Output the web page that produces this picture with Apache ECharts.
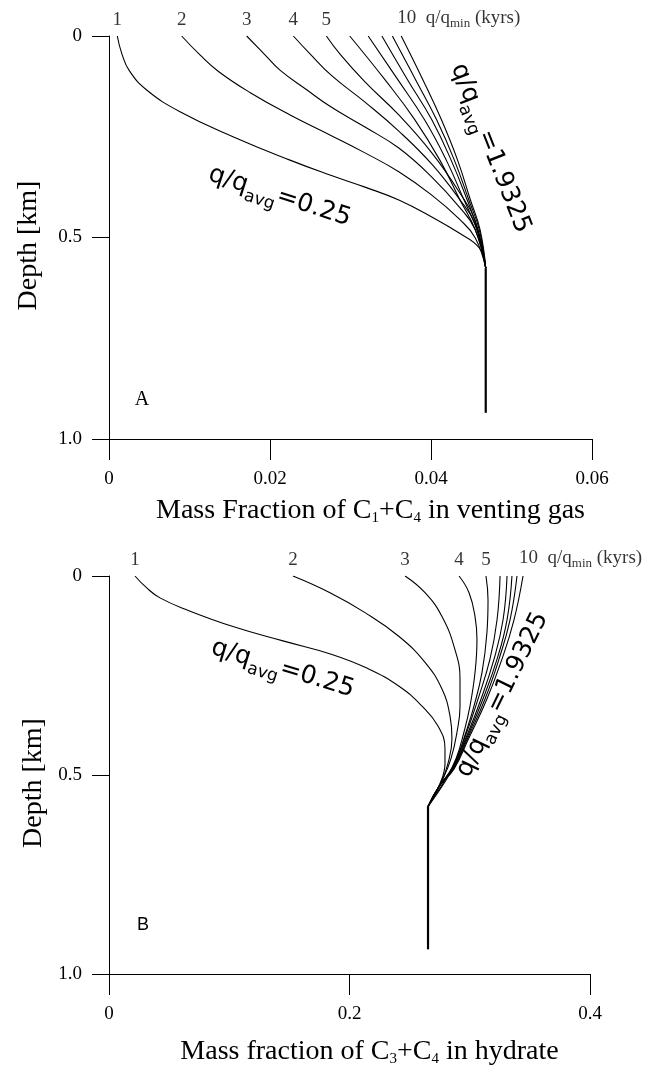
<!DOCTYPE html>
<html>
<head>
<meta charset="utf-8">
<script src="https://cdn.jsdelivr.net/npm/echarts@6/dist/echarts.min.js"></script>
<style>
  html, body { margin: 0; padding: 0; background: #fff; }
  #chart { width: 664px; height: 1068px; }
</style>
</head>
<body>
<div id="chart"></div>
<script>
// ---- Panel A: mass fraction in venting gas, points are [fraction, depth km] ----
const gas1 = [[0.00103,0],[0.00158,0.043],[0.00252,0.086],[0.00468,0.134],[0.00882,0.188],[0.0154,0.25],[0.02248,0.308],[0.02745,0.345],[0.0318,0.375],[0.036,0.407],[0.0401,0.449],[0.0435,0.489],[0.046,0.526],[0.0468,0.576]];
const gas2 = [[0.00903,0],[0.0113,0.047],[0.0136,0.088],[0.0175,0.14],[0.0225,0.196],[0.0275,0.246],[0.0318,0.29],[0.036,0.337],[0.0401,0.395],[0.0435,0.454],[0.0455,0.501],[0.0468,0.576]];
const gas3 = [[0.0171,0],[0.0192,0.043],[0.0212,0.084],[0.0246,0.134],[0.0275,0.175],[0.0318,0.226],[0.036,0.278],[0.0401,0.35],[0.0435,0.424],[0.0455,0.481],[0.0468,0.576]];
const gas4 = [[0.0229,0],[0.025,0.045],[0.0277,0.099],[0.0318,0.164],[0.036,0.236],[0.0401,0.318],[0.0435,0.404],[0.0455,0.467],[0.0468,0.576]];
const gas5 = [[0.027,0],[0.0287,0.045],[0.0318,0.114],[0.036,0.196],[0.0401,0.29],[0.0435,0.387],[0.0455,0.459],[0.0468,0.576]];
const gas6 = [[0.0299,0],[0.0343,0.109],[0.038,0.208],[0.0411,0.308],[0.0436,0.407],[0.0455,0.481],[0.0468,0.576]];
const gas7 = [[0.0322,0],[0.0359,0.109],[0.0392,0.208],[0.0419,0.308],[0.0441,0.407],[0.0457,0.481],[0.0468,0.576]];
const gas8 = [[0.0339,0],[0.0371,0.109],[0.0401,0.208],[0.0425,0.308],[0.0445,0.407],[0.0458,0.481],[0.0468,0.576]];
const gas9 = [[0.0352,0],[0.0381,0.109],[0.0407,0.208],[0.0429,0.308],[0.0447,0.407],[0.046,0.481],[0.0468,0.576]];
const gas10 = [[0.0363,0],[0.039,0.109],[0.0413,0.208],[0.0433,0.308],[0.0449,0.407],[0.0461,0.481],[0.0468,0.576]];
const gasBelow = [[0.0468,0.576],[0.0468,0.935]];

// ---- Panel B: mass fraction in hydrate ----
const hyd1 = [[0.0216,0],[0.0314,0.03],[0.0424,0.055],[0.0646,0.085],[0.1031,0.127],[0.1447,0.163],[0.1854,0.197],[0.2149,0.232],[0.2412,0.277],[0.2603,0.327],[0.2736,0.377],[0.2794,0.434],[0.2794,0.471],[0.2753,0.521],[0.2653,0.579]];
const hyd2 = [[0.153,0],[0.1838,0.042],[0.2129,0.092],[0.2412,0.152],[0.2628,0.217],[0.2769,0.284],[0.2836,0.352],[0.2852,0.409],[0.2819,0.471],[0.2761,0.521],[0.2653,0.579]];
const hyd3 = [[0.2462,0],[0.2628,0.042],[0.2769,0.102],[0.2877,0.185],[0.2919,0.259],[0.2919,0.327],[0.2894,0.392],[0.2844,0.459],[0.2777,0.509],[0.2653,0.579]];
const hyd4 = [[0.2911,0],[0.2994,0.042],[0.3044,0.102],[0.306,0.16],[0.3044,0.242],[0.3002,0.327],[0.2952,0.392],[0.2886,0.459],[0.2802,0.509],[0.2653,0.579]];
const hyd5 = [[0.3135,0],[0.3152,0.06],[0.3143,0.142],[0.3102,0.242],[0.3035,0.327],[0.2969,0.392],[0.2894,0.459],[0.2811,0.509],[0.2653,0.579]];
const hyd6 = [[0.3252,0],[0.3227,0.11],[0.3168,0.209],[0.3069,0.309],[0.2955,0.409],[0.285,0.484],[0.2744,0.529],[0.2653,0.579]];
const hyd7 = [[0.331,0],[0.3277,0.11],[0.3202,0.209],[0.3094,0.309],[0.2965,0.409],[0.2856,0.484],[0.2744,0.529],[0.2653,0.579]];
const hyd8 = [[0.3351,0],[0.331,0.11],[0.3227,0.209],[0.311,0.309],[0.2973,0.409],[0.2861,0.484],[0.2744,0.529],[0.2653,0.579]];
const hyd9 = [[0.3393,0],[0.3335,0.11],[0.3243,0.209],[0.3127,0.309],[0.2981,0.409],[0.2866,0.484],[0.2744,0.529],[0.2653,0.579]];
const hyd10 = [[0.3443,0],[0.3368,0.11],[0.3268,0.209],[0.3143,0.309],[0.299,0.409],[0.2871,0.484],[0.2744,0.529],[0.2653,0.579]];
const hydBelow = [[0.2653,0.579],[0.2653,0.938]];

// q/q_min run labels written above the surface end of each profile
const runLabels = ['1', '2', '3', '4', '5', '', '', '', '', '10'];
const gasProfiles = [gas1, gas2, gas3, gas4, gas5, gas6, gas7, gas8, gas9, gas10];
const hydProfiles = [hyd1, hyd2, hyd3, hyd4, hyd5, hyd6, hyd7, hyd8, hyd9, hyd10];

// curve annotations, anchored in data coordinates [fraction, depth]
const notes = [
  { grid: 0, at: [0.0211, 0.404], rot: -18, value: '0.25' },
  { grid: 0, at: [0.0471, 0.281], rot: -68.5, value: '1.9325' },
  { grid: 1, at: [0.1439, 0.239], rot: -17, value: '0.25' },
  { grid: 1, at: [0.329, 0.301], rot: 64, value: '1.9325' }
];
const panelTags = [
  { grid: 0, at: [0.0041, 0.903], text: 'A', family: 'Liberation Serif', size: 20 },
  { grid: 1, at: [0.0283, 0.878], text: 'B', family: 'Liberation Sans', size: 18 }
];

const SERIF = 'Liberation Serif';
const SANS = 'DejaVu Sans';
const INK = '#000';

function curve(data, gi, width) {
  return {
    type: 'line', xAxisIndex: gi, yAxisIndex: gi, data: data,
    symbol: 'none', showSymbol: false, smooth: 0.45, silent: true,
    lineStyle: { color: INK, width: width }
  };
}

function runLabelSeries(profiles, gi) {
  return {
    type: 'scatter', xAxisIndex: gi, yAxisIndex: gi, silent: true,
    symbolSize: 1, itemStyle: { color: 'rgba(0,0,0,0)' },
    data: profiles.map(function (p, i) {
      const item = { value: p[0] };
      if (!runLabels[i]) {
        item.label = { show: false };
      } else if (i === profiles.length - 1) {
        item.label = {
          show: true, position: 'top', distance: 6, align: 'left', offset: [-4, 0],
          formatter: '{n|' + runLabels[i] + '  q/q}{s|min}{n| (kyrs)}',
          rich: {
            n: { fontFamily: SERIF, fontSize: 19, color: INK, lineHeight: 21, verticalAlign: 'top' },
            s: { fontFamily: SERIF, fontSize: 13, color: INK, lineHeight: 13, padding: [9, 0, 0, 0], verticalAlign: 'top' }
          }
        };
      } else {
        item.label = { show: true, position: 'top', distance: 6, formatter: runLabels[i],
          fontFamily: SERIF, fontSize: 19, color: INK };
      }
      return item;
    })
  };
}

const axisText = { fontFamily: SERIF, fontSize: 19, color: INK };
const subRich = { sub: { fontFamily: SERIF, fontSize: 15, color: INK, lineHeight: 15, padding: [14, 0, 0, 0], verticalAlign: 'top' } };

function xAxisDef(gi, max, interval, digits, name, gap) {
  return {
    gridIndex: gi, type: 'value', min: 0, max: max, interval: interval, position: 'bottom',
    axisLine: { onZero: false, lineStyle: { color: INK, width: 1 } },
    axisTick: { length: 21, lineStyle: { color: INK, width: 1 } },
    axisLabel: Object.assign({ margin: 31, formatter: function (v) { return v === 0 ? '0' : v.toFixed(digits); } }, axisText),
    splitLine: { show: false },
    name: name, nameLocation: 'middle', nameGap: gap,
    nameTextStyle: { fontFamily: SERIF, fontSize: 28, color: INK, padding: [0, 0, 0, 40], rich: subRich }
  };
}

function yAxisDef(gi, gap) {
  return {
    gridIndex: gi, type: 'value', inverse: true, min: 0, max: 1, interval: 0.5,
    axisLine: { show: true, onZero: false, lineStyle: { color: INK, width: 1 } },
    axisTick: { show: true, length: 17, lineStyle: { color: INK, width: 1 } },
    axisLabel: Object.assign({ margin: 27, formatter: function (v) { return v === 0 ? '0' : v.toFixed(1); } }, axisText),
    splitLine: { show: false },
    name: 'Depth [km]', nameLocation: 'middle', nameGap: gap,
    nameTextStyle: { fontFamily: SERIF, fontSize: 28, color: INK, padding: [0, 16, 0, 0] }
  };
}

const series = [];
gasProfiles.forEach(function (p) { series.push(curve(p, 0, 1.1)); });
series.push(curve(gasBelow, 0, 2.2));
series.push(runLabelSeries(gasProfiles, 0));
hydProfiles.forEach(function (p) { series.push(curve(p, 1, 1.1)); });
series.push(curve(hydBelow, 1, 2.2));
series.push(runLabelSeries(hydProfiles, 1));

const chart = echarts.init(document.getElementById('chart'), null, { renderer: 'canvas' });
chart.setOption({
  animation: false,
  backgroundColor: '#fff',
  grid: [
    { left: 109, top: 36, width: 483, height: 403 },
    { left: 109, top: 576, width: 481, height: 401 }
  ],
  xAxis: [
    xAxisDef(0, 0.06, 0.02, 2, 'Mass Fraction of C{sub|1}+C{sub|4} in venting gas', 58),
    xAxisDef(1, 0.4, 0.2, 1, 'Mass fraction of C{sub|3}+C{sub|4} in hydrate', 64)
  ],
  yAxis: [yAxisDef(0, 66), yAxisDef(1, 58)],
  series: series
});

// annotations placed through the grids' own coordinate systems
const graphics = [];
notes.forEach(function (n) {
  const p = chart.convertToPixel({ gridIndex: n.grid }, n.at);
  graphics.push({
    type: 'text', x: p[0], y: p[1], rotation: n.rot * Math.PI / 180, silent: true,
    style: {
      text: '{n|q/q}{s|avg}{n|=' + n.value + '}',
      align: 'center', verticalAlign: 'middle', fill: INK,
      rich: {
        n: { fontFamily: SANS, fontSize: 25, fill: INK, lineHeight: 30, verticalAlign: 'top' },
        s: { fontFamily: SANS, fontSize: 17, fill: INK, lineHeight: 17, padding: [14, 0, 0, 0], verticalAlign: 'top' }
      }
    }
  });
});
panelTags.forEach(function (t) {
  const p = chart.convertToPixel({ gridIndex: t.grid }, t.at);
  graphics.push({
    type: 'text', x: p[0], y: p[1], silent: true,
    style: { text: t.text, fontFamily: t.family, fontSize: t.size, fill: INK, align: 'center', verticalAlign: 'middle' }
  });
});
chart.setOption({ graphic: graphics });
</script>
</body>
</html>
